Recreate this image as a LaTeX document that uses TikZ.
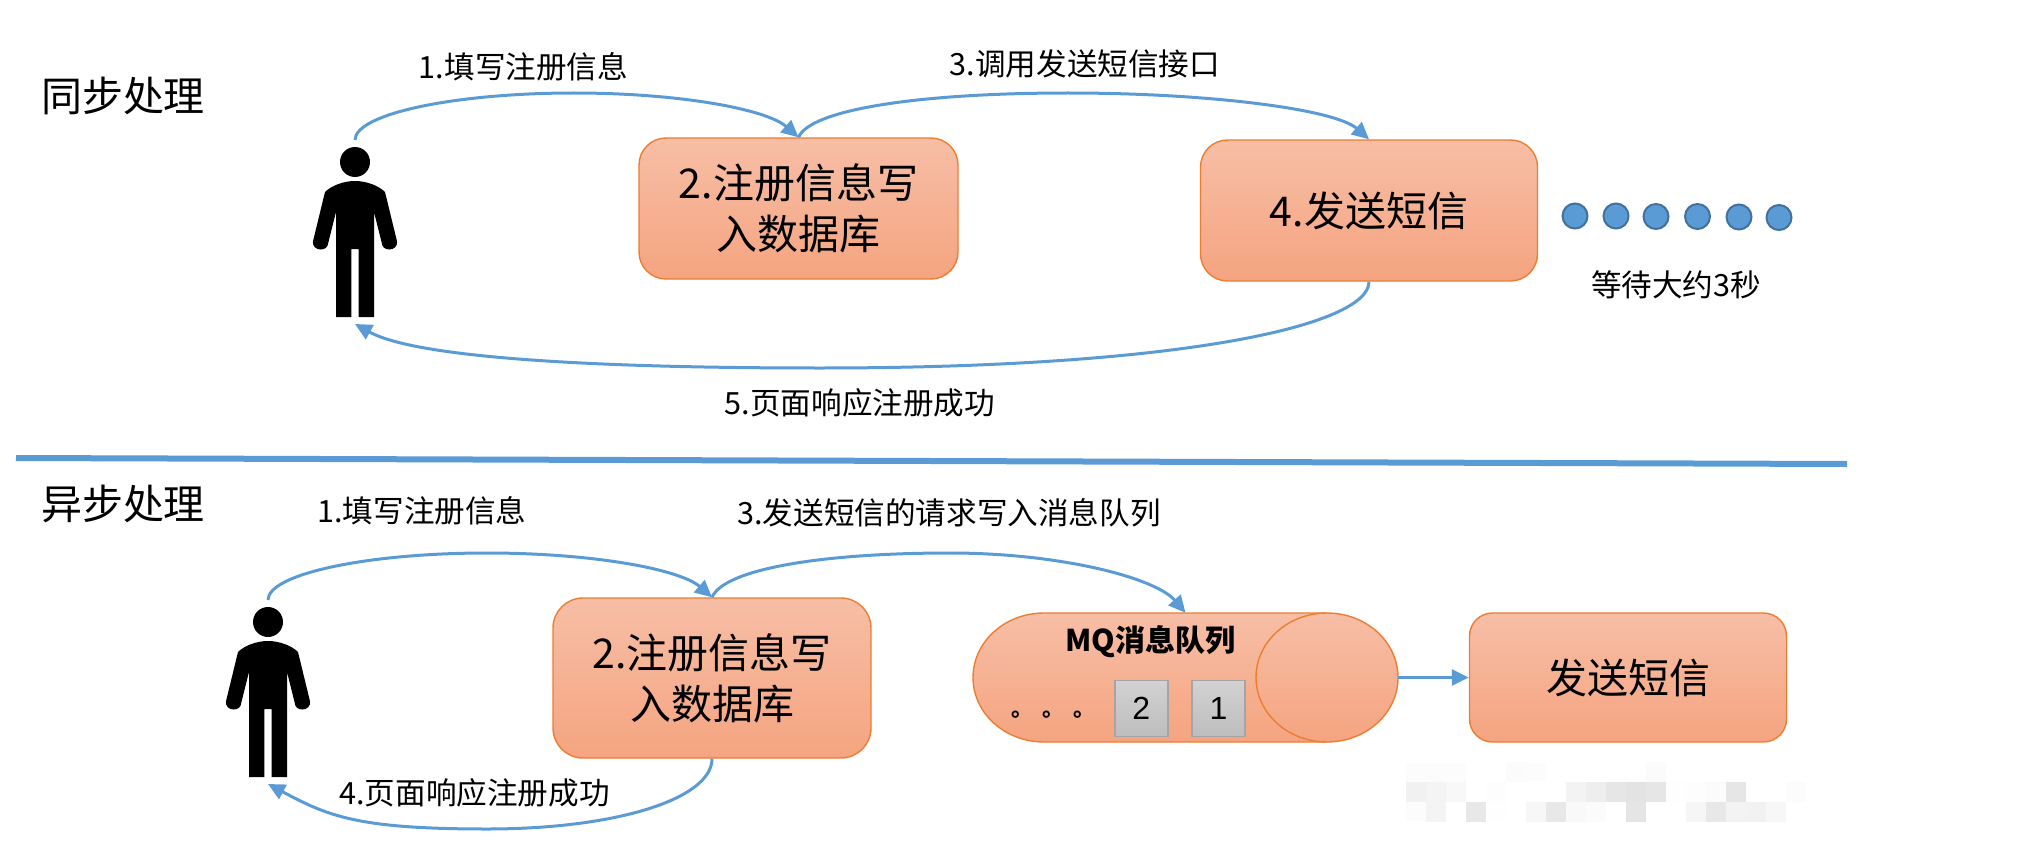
\documentclass[tikz,border=0pt]{standalone}
\usepackage{fontspec}
\setmainfont{Noto Sans CJK SC}
\newfontfamily\latn{Liberation Sans}
\usetikzlibrary{arrows.meta}
\definecolor{flow}{HTML}{5B9BD5}
\definecolor{flowdark}{HTML}{41719C}
\definecolor{edge}{HTML}{ED7D31}
\definecolor{boxtop}{HTML}{F7BEA6}
\definecolor{boxbot}{HTML}{F5A480}
\definecolor{graytop}{HTML}{D2D2D2}
\definecolor{graybot}{HTML}{BDBDBD}
\definecolor{grayedge}{HTML}{A5A5A5}
\tikzset{
  x=1pt,y=-1pt,
  peach/.style={draw=edge,line width=1.4pt,top color=boxtop,bottom color=boxbot,shading angle=0},
  procbox/.style={peach,rounded corners=27pt,inner sep=0pt,align=center,font=\fontsize{41}{51}\selectfont},
  wait/.style={circle,draw=flowdark,fill=flow,line width=2pt,minimum size=25pt,inner sep=0pt},
  lab/.style={inner sep=0pt,font=\fontsize{30.6}{36}\selectfont},
  head/.style={inner sep=0pt,font=\fontsize{41}{48}\selectfont},
  flowline/.style={draw=flow,line width=3pt,-{Triangle[length=17pt,width=16pt]}},
  msg/.style={draw=grayedge,line width=1.5pt,top color=graytop,bottom color=graybot,minimum width=53pt,minimum height=56pt,inner sep=0pt,font=\latn\fontsize{32}{36}\selectfont},
  person/.pic={
    \fill[black] (0,162) circle[radius=15];
    \fill[black] (0,181) .. controls (-12,181) and (-24,186) .. (-30,192) -- (-41.7,240)
      .. controls (-43.5,247) and (-38,249.5) .. (-34.5,249.5)
      .. controls (-30,249.5) and (-27,247) .. (-26.8,243) -- (-19,212) -- (-19,317)
      -- (-3.7,317) -- (-3.7,249) -- (3.7,249) -- (3.7,317) -- (19,317) -- (19,212)
      -- (26.8,243) .. controls (27,247) and (30,249.5) .. (34.5,249.5)
      .. controls (38,249.5) and (43.5,247) .. (41.7,240) -- (30,192)
      .. controls (24,186) and (12,181) .. (0,181) -- cycle;
    \coordinate (-top) at (0,140);
    \coordinate (-bot) at (0,324);
  }
}
\begin{document}
\begin{tikzpicture}
\useasboundingbox (0,0) rectangle (2024,856);

% mosaic patch
\foreach \c/\r/\v in {0/0/1,1/0/1,2/0/1,5/0/1.5,6/0/1.2,12/0/1.5,
  0/1/5.5,1/1/4.3,2/1/2.7,4/1/.8,8/1/4.7,9/1/6.7,10/1/9.8,11/1/11,12/1/9.8,13/1/.5,14/1/.8,15/1/1.6,16/1/9.8,19/1/1.2,
  0/2/1.2,1/2/4.3,3/2/9,4/2/.5,6/2/3,7/2/9,8/2/2.4,9/2/1.6,11/2/10,14/2/3.5,15/2/9,16/2/4.7,17/2/5,18/2/3}
  \fill[black!\v] ({1406+20*\c},{762+20*\r}) rectangle +(20,20);

\node[head] (sync) at (123,96) {同步处理};
\node[head] (async) at (123,504) {异步处理};

\pic (p1) at (355,0) {person};
\pic (p2) at (268,460) {person};

\node[procbox,minimum width=319pt,minimum height=141pt] (b1) at (798.5,208.5) {2.注册信息写\\入数据库};
\node[procbox,minimum width=337pt,minimum height=141pt] (b2) at (1369,210.5) {4.发送短信};
\node[procbox,minimum width=318pt,minimum height=160pt,rounded corners=30pt] (b3) at (712,678) {2.注册信息写\\入数据库};
\node[procbox,minimum width=317pt,minimum height=129pt,rounded corners=23pt] (b4) at (1628,677.5) {发送短信};

\node[wait] (d1) at (1575,216) {};
\node[wait] (d2) at (1616,216) {};
\node[wait] (d3) at (1656,216.5) {};
\node[wait] (d4) at (1697.5,216.5) {};
\node[wait] (d5) at (1739,217) {};
\node[wait] (d6) at (1779,217.5) {};
\node[lab] (waitlab) at (1676,285) {等待大约3秒};

% queue cylinder
\node[minimum width=425pt,minimum height=129pt,inner sep=0pt] (mq) at (1185.5,677.5) {};
\draw[peach] (1044,613) .. controls (1004.8,613) and (973,641.9) .. (973,677.5)
  .. controls (973,713.1) and (1004.8,742) .. (1044,742) -- (1327,742)
  .. controls (1366.2,742) and (1398,713.1) .. (1398,677.5)
  .. controls (1398,641.9) and (1366.2,613) .. (1327,613) -- cycle;
\draw[edge,line width=1.4pt] (1327,613) .. controls (1287.8,613) and (1256,641.9) .. (1256,677.5)
  .. controls (1256,713.1) and (1287.8,742) .. (1327,742);
\node[inner sep=0pt,font=\fontsize{30}{36}\selectfont\bfseries] (mqlab) at (1150.5,642) {MQ消息队列};
\node[msg] (m2) at (1141.3,708.5) {2};
\node[msg] (m1) at (1218.6,708.5) {1};
\node[lab,anchor=base west,font=\fontsize{22}{26}\selectfont\bfseries] (more) at (1011,716) {。\hspace{9pt}。\hspace{9pt}。};

% separator
\coordinate (sepa) at (16,458);
\coordinate (sepb) at (1847,464);
\draw[flow,line width=6pt] (sepa) -- (sepb);

% curve apexes
\coordinate (k1) at (574,93);
\coordinate (k2) at (1068,93);
\coordinate (k3) at (820,368);
\coordinate (k4) at (487,553);
\coordinate (k5) at (950,553);
\coordinate (k6) at (487,829);

\draw[flowline] (p1-top) .. controls +(0,-26) and +(-120,0) .. (k1) .. controls +(106,0) and +(-32,-28) .. (b1.north);
\draw[flowline] (b1.north) .. controls +(12,-28) and +(-148,0) .. (k2) .. controls +(142,0) and +(-34,-30) .. (b2.north);
\draw[flowline] (b2.south) .. controls +(0,44) and +(360,0) .. (k3) .. controls +(-200,0) and +(65,36) .. (p1-bot);
\draw[flowline] (p2-top) .. controls +(0,-26) and +(-120,0) .. (k4) .. controls +(106,0) and +(-32,-28) .. (b3.north);
\draw[flowline] (b3.north) .. controls +(12,-28) and +(-130,0) .. (k5) .. controls +(110,0) and +(-30,-35) .. (mq.north);
\draw[flowline] (b3.south) .. controls +(0,40) and +(130,0) .. (k6) .. controls +(-130,0) and +(60,32) .. (p2-bot);
\draw[flowline] (mq.east) -- (b4.west);

\node[lab] (l1) at (523.5,67) {1.填写注册信息};
\node[lab] (l3) at (1085,64) {3.调用发送短信接口};
\node[lab] (l5) at (860,403) {5.页面响应注册成功};
\node[lab] (l1b) at (422,511) {1.填写注册信息};
\node[lab] (l3b) at (949,513) {3.发送短信的请求写入消息队列};
\node[lab] (l4b) at (474.5,793) {4.页面响应注册成功};
\end{tikzpicture}
\end{document}
